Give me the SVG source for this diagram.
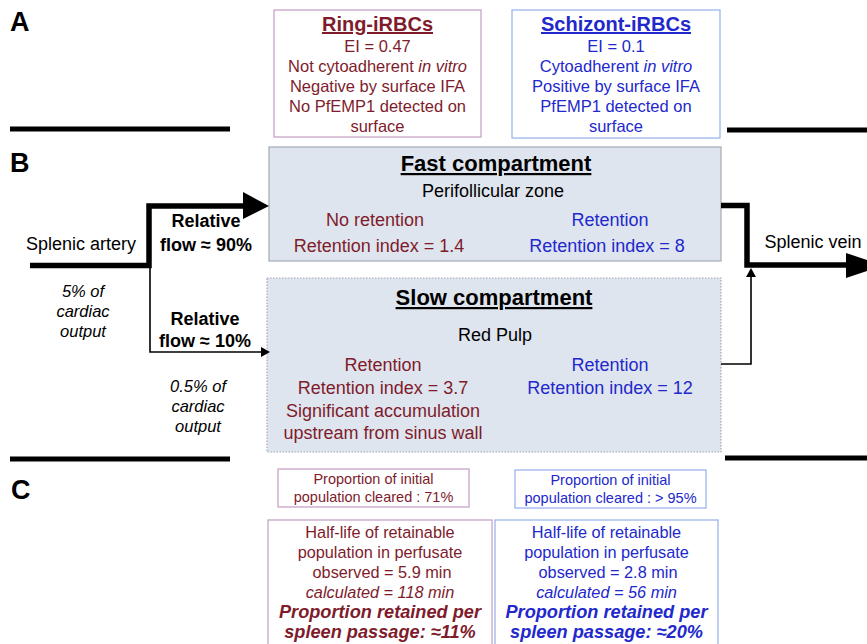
<svg xmlns="http://www.w3.org/2000/svg" width="867" height="644" viewBox="0 0 867 644">
<style>
text{font-family:"Liberation Sans",Arial,sans-serif;text-anchor:middle}
.lbl{font-size:27px;font-weight:bold;text-anchor:start;fill:#000}
.red{fill:#7e1c2c}
.blue{fill:#2228cc}
.blk{fill:#000}
.t16{font-size:16.5px}
.t18{font-size:18px}
.t14{font-size:14.5px}
.tt{font-size:20px;font-weight:bold;text-decoration:underline}
.ct{font-size:22px;font-weight:bold;text-decoration:underline}
.b{font-weight:bold}
.i{font-style:italic}
.rbox{fill:#fff;stroke:#c9a3c9;stroke-width:1.3}
.bbox{fill:#fff;stroke:#9db5ee;stroke-width:1.3}
.comp{fill:#dfe5ee;stroke:#a3aab3;stroke-width:1.2}
.dot{stroke-dasharray:1.5 1.5}
.sep{stroke:#000;stroke-width:5;fill:none}
.thick{stroke:#000;stroke-width:5.5;fill:none}
.thin{stroke:#000;stroke-width:1.6;fill:none}
</style>
<text class="lbl" x="10" y="31">A</text>
<text class="lbl" x="10" y="172">B</text>
<text class="lbl" x="11" y="499">C</text>
<g id="separators">
<line class="sep" x1="10" y1="129" x2="230" y2="129"/>
<line class="sep" x1="727" y1="130" x2="867" y2="130"/>
<line class="sep" x1="10" y1="459" x2="230" y2="459"/>
<line class="sep" x1="725" y1="458" x2="867" y2="458"/>
</g>
<g id="ring">
<rect class="rbox" x="274" y="10" width="207" height="127"/>
<text class="tt red" x="377.5" y="31">Ring-iRBCs</text>
<text class="t16 red" x="377.5" y="52">EI = 0.47</text>
<text class="t16 red" x="377.5" y="72">Not cytoadherent <tspan class="i">in vitro</tspan></text>
<text class="t16 red" x="377.5" y="92">Negative by surface IFA</text>
<text class="t16 red" x="377.5" y="112">No PfEMP1 detected on</text>
<text class="t16 red" x="377.5" y="132">surface</text>
</g>
<g id="schizont">
<rect class="bbox" x="512" y="10" width="208" height="128"/>
<text class="tt blue" x="616" y="31">Schizont-iRBCs</text>
<text class="t16 blue" x="616" y="52">EI = 0.1</text>
<text class="t16 blue" x="616" y="72">Cytoadherent <tspan class="i">in vitro</tspan></text>
<text class="t16 blue" x="616" y="92">Positive by surface IFA</text>
<text class="t16 blue" x="616" y="112">PfEMP1 detected on</text>
<text class="t16 blue" x="616" y="132">surface</text>
</g>
<g id="fast">
<rect class="comp" x="269" y="147" width="452" height="114"/>
<text class="ct blk" x="496" y="171">Fast compartment</text>
<text class="t18 blk" x="493" y="197">Perifollicular zone</text>
<text class="t18 red" x="375" y="226">No retention</text>
<text class="t18 red" x="379" y="252">Retention index = 1.4</text>
<text class="t18 blue" x="610" y="226">Retention</text>
<text class="t18 blue" x="607" y="252">Retention index = 8</text>
</g>
<g id="slow">
<rect class="comp dot" x="267" y="278" width="454" height="174"/>
<text class="ct blk" x="494" y="305">Slow compartment</text>
<text class="t18 blk" x="495" y="341">Red Pulp</text>
<text class="t18 red" x="383" y="371">Retention</text>
<text class="t18 red" x="383" y="394">Retention index = 3.7</text>
<text class="t18 red" x="383" y="417">Significant accumulation</text>
<text class="t18 red" x="383" y="439">upstream from sinus wall</text>
<text class="t18 blue" x="610" y="371">Retention</text>
<text class="t18 blue" x="610" y="394">Retention index = 12</text>
</g>
<g id="connectors">
<path class="thick" d="M30,265.5 H149 V206 H246"/>
<polygon points="243,192 269,206 243,219" fill="#000"/>
<path class="thin" d="M150,266 V352 H262"/>
<polygon points="261,347 270,352 261,357" fill="#000"/>
<path class="thick" d="M721,205.5 H747 V265 H850"/>
<polygon points="846,253 884,265.5 846,278" fill="#000"/>
<path class="thin" d="M721,364 H751 V276"/>
<polygon points="746,277 751,268 756,277" fill="#000"/>
</g>
<g id="flowlabels">
<text class="t18 blk" x="81" y="250">Splenic artery</text>
<text class="t18 blk" x="813" y="248">Splenic vein</text>
<text class="t18 b blk" x="206" y="227">Relative</text>
<text class="t18 b blk" x="206" y="251">flow ≈ 90%</text>
<text class="t18 b blk" x="205" y="325">Relative</text>
<text class="t18 b blk" x="205" y="347">flow ≈ 10%</text>
<text class="i blk" font-size="16.5" x="83" y="297">5% of</text>
<text class="i blk" font-size="16.5" x="83" y="317">cardiac</text>
<text class="i blk" font-size="16.5" x="83" y="337">output</text>
<text class="i blk" font-size="16.5" x="198" y="392">0.5% of</text>
<text class="i blk" font-size="16.5" x="198" y="412">cardiac</text>
<text class="i blk" font-size="16.5" x="198" y="432">output</text>
</g>
<g id="ring-cleared">
<rect class="rbox" x="278" y="469" width="191" height="38"/>
<text class="t14 red" x="373.5" y="484">Proportion of initial</text>
<text class="t14 red" x="373.5" y="502">population cleared : 71%</text>
</g>
<g id="schizont-cleared">
<rect class="bbox" x="515" y="470" width="191" height="38"/>
<text class="t14 blue" x="610.5" y="485">Proportion of initial</text>
<text class="t14 blue" x="610.5" y="503">population cleared : &gt; 95%</text>
</g>
<g id="ring-halflife">
<rect class="rbox" x="268" y="520" width="224" height="140"/>
<text class="red" font-size="16.3" x="380" y="538">Half-life of retainable</text>
<text class="red" font-size="16.3" x="380" y="558">population in perfusate</text>
<text class="red" font-size="16.3" x="382" y="578">observed = 5.9 min</text>
<text class="red i" font-size="16.3" x="380" y="598">calculated = 118 min</text>
<text class="red i b" font-size="18.2" x="380" y="618">Proportion retained per</text>
<text class="red i b" font-size="18.2" x="380" y="638">spleen passage: ≈11%</text>
</g>
<g id="schizont-halflife">
<rect class="bbox" x="495" y="520" width="223" height="140"/>
<text class="blue" font-size="16.3" x="606.5" y="538">Half-life of retainable</text>
<text class="blue" font-size="16.3" x="606.5" y="558">population in perfusate</text>
<text class="blue" font-size="16.3" x="608" y="578">observed = 2.8 min</text>
<text class="blue i" font-size="16.3" x="606.5" y="598">calculated = 56 min</text>
<text class="blue i b" font-size="18.2" x="606.5" y="618">Proportion retained per</text>
<text class="blue i b" font-size="18.2" x="606.5" y="638">spleen passage: ≈20%</text>
</g>
</svg>
